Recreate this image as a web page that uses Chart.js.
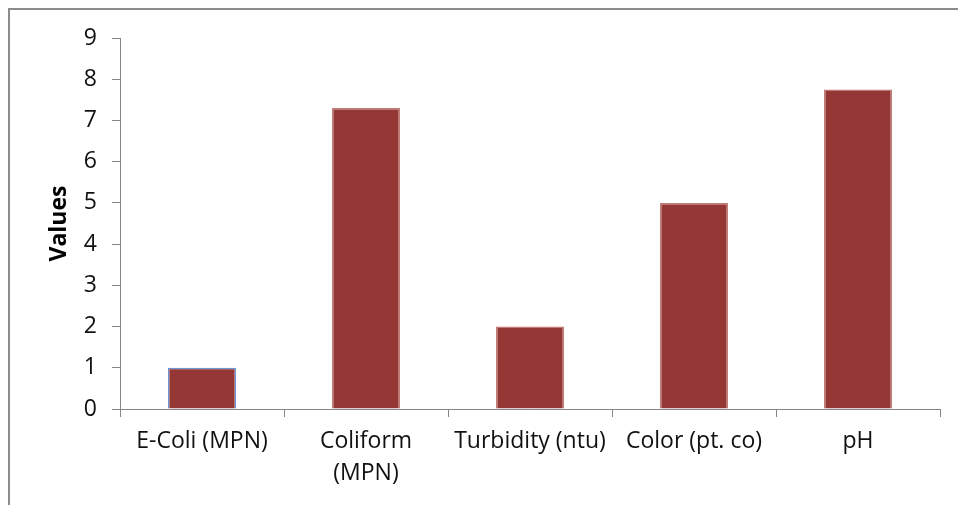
<!DOCTYPE html>
<html>
<head>
<meta charset="utf-8">
<script src="https://cdn.jsdelivr.net/npm/chart.js@4.4.1/dist/chart.umd.min.js"></script>
<style>
  html, body { margin: 0; padding: 0; background: #ffffff; }
  #wrap { width: 958px; height: 505px; position: relative; }
</style>
</head>
<body>
<div id="wrap"><canvas id="chart" width="958" height="505"></canvas></div>
<script>
// Water quality parameters and their measured values
const categories = ['E-Coli (MPN)', ['Coliform', '(MPN)'], 'Turbidity (ntu)', 'Color (pt. co)', 'pH'];
const values = [1, 7.3, 2, 5, 7.75];
const yTicks = [0, 1, 2, 3, 4, 5, 6, 7, 8, 9];

const barFill = '#953735';
const barEdges = ['#6f93d0', '#c07a78', '#c07a78', '#c07a78', '#c07a78'];
const axisGray = '#868686';
const fontFamily = "'Open Sans', 'Noto Sans', sans-serif";

// Thin gray frame around the whole chart
const framePlugin = {
  id: 'frame',
  beforeDraw(chart) {
    const ctx = chart.ctx;
    ctx.save();
    ctx.fillStyle = '#ffffff';
    ctx.fillRect(0, 0, chart.width, chart.height);
    ctx.strokeStyle = '#8c8c8c';
    ctx.lineWidth = 2;
    ctx.strokeRect(9, 9, chart.width + 20, chart.height + 20);
    ctx.restore();
  }
};

new Chart(document.getElementById('chart'), {
  type: 'bar',
  data: {
    labels: categories,
    datasets: [{
      data: values,
      backgroundColor: barFill,
      borderColor: barEdges,
      borderWidth: 1.5,
      barPercentage: 0.415,
      categoryPercentage: 1.0
    }]
  },
  options: {
    responsive: false,
    animation: false,
    layout: { padding: { left: 0, top: 38, right: 18, bottom: 0 } },
    plugins: {
      legend: { display: false },
      tooltip: { enabled: false }
    },
    scales: {
      x: {
        grid: {
          display: true,
          offset: true,
          drawOnChartArea: false,
          drawTicks: true,
          tickLength: 8,
          color: axisGray
        },
        border: { display: true, color: axisGray, width: 1 },
        ticks: {
          color: '#111111',
          padding: 8,
          maxRotation: 0,
          autoSkip: false,
          font: { family: fontFamily, size: 23, lineHeight: 1.4 }
        },
        afterFit(scale) { scale.height = 96; }
      },
      y: {
        min: 0,
        max: 9,
        afterBuildTicks(scale) { scale.ticks = yTicks.map(v => ({ value: v })); },
        grid: {
          display: true,
          drawOnChartArea: false,
          drawTicks: true,
          tickLength: 8,
          color: axisGray
        },
        border: { display: true, color: axisGray, width: 1 },
        ticks: {
          color: '#111111',
          padding: 15,
          font: { family: fontFamily, size: 23 }
        },
        title: {
          display: true,
          text: 'Values',
          color: '#000000',
          padding: { top: 46, bottom: 0 },
          font: { family: fontFamily, size: 23, weight: 'bold', lineHeight: 1.2 }
        },
        afterFit(scale) { scale.width = 120; }
      }
    }
  },
  plugins: [framePlugin]
});
</script>
</body>
</html>
